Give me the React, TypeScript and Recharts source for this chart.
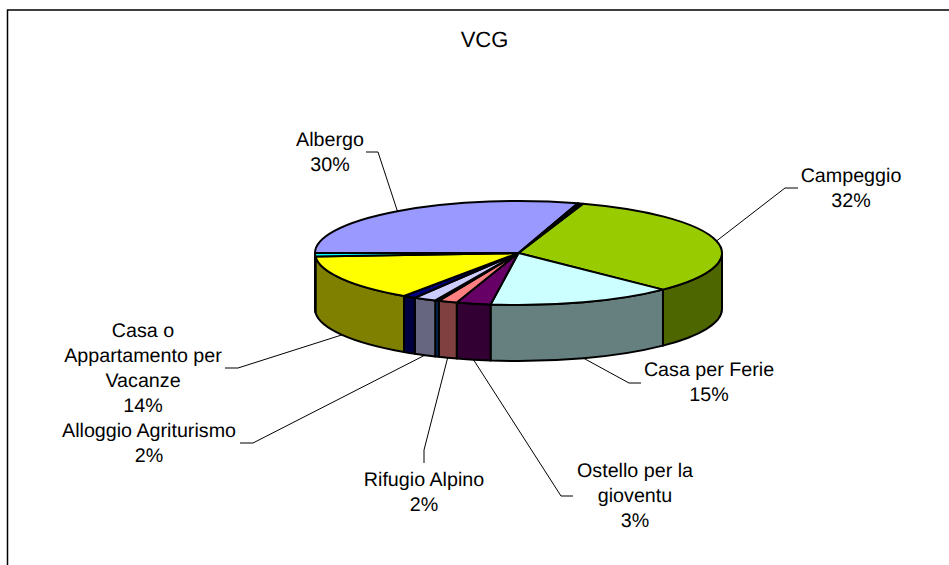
import { PieChart, Pie } from "recharts";

const names = [
  "Campeggio",
  "Casa per Ferie",
  "Ostello per la gioventu",
  "Rifugio Alpino",
  "Altro A",
  "Alloggio Agriturismo",
  "Altro B",
  "Casa o Appartamento per Vacanze",
  "Altro C",
  "Albergo",
  "Altro D",
];
const values = [32.3, 14.75, 2.72, 1.5, 0.3, 1.8, 1.0, 14.4, 1.1, 29.7, 0.43];
const topColors = [
  "#99CC00", "#CCFFFF", "#660066", "#FF8080", "#0066CC", "#CCCCFF",
  "#000080", "#FFFF00", "#00FFFF", "#9999FF", "#000000",
];
const wallColors = [
  "#4D6600", "#668080", "#330033", "#804040", "#003366", "#666680",
  "#000040", "#808000", "#008080", "#4D4D80", "#000000",
];

const data = names.map((name, i) => ({ name, value: values[i], top: topColors[i], wall: wallColors[i] }));

const WIDTH = 949;
const HEIGHT = 565;
const CX = 518.5;
const CY = 253;
const RX = 203.5;
const RY = 52;
const DEPTH = 56;
const FONT = "'Liberation Sans', Arial, sans-serif";

// label text lines, baselines and leader elbow for the slices that have one
const labelLayout: Record<string, { lines: string[]; x: number; y: number; leader: number[][] }> = {
  Campeggio: { lines: ["Campeggio"], x: 851, y: 182, leader: [[785, 188], [798, 188]] },
  "Casa per Ferie": { lines: ["Casa per Ferie"], x: 709, y: 376, leader: [[629, 383], [641, 383]] },
  "Ostello per la gioventu": { lines: ["Ostello per la", "gioventu"], x: 635, y: 477, leader: [[561, 496], [573, 496]] },
  "Rifugio Alpino": { lines: ["Rifugio Alpino"], x: 424, y: 486, leader: [[424, 450], [424, 463]] },
  "Alloggio Agriturismo": { lines: ["Alloggio Agriturismo"], x: 149, y: 437, leader: [[253, 443], [240, 443]] },
  "Casa o Appartamento per Vacanze": { lines: ["Casa o", "Appartamento per", "Vacanze"], x: 143, y: 337, leader: [[238, 368], [225, 368]] },
  Albergo: { lines: ["Albergo"], x: 330, y: 146, leader: [[378, 152], [366, 152]] },
};

const rad = (deg: number) => (deg * Math.PI) / 180;
const px = (deg: number) => CX + RX * Math.cos(rad(deg));
const py = (deg: number) => CY - RY * Math.sin(rad(deg));

// flattened slice face, the angles come from the Pie
function TopFace(props: any) {
  const { startAngle, endAngle, payload } = props;
  const large = Math.abs(startAngle - endAngle) > 180 ? 1 : 0;
  const d = `M${CX},${CY} L${px(startAngle)},${py(startAngle)} A${RX},${RY} 0 ${large} 1 ${px(endAngle)},${py(endAngle)} Z`;
  return <path d={d} fill={payload.top} stroke="#000" strokeWidth={2} strokeLinejoin="round" />;
}

// side wall, only the front half of the disc shows it
function Wall(props: any) {
  const { startAngle, endAngle, payload } = props;
  const hi = Math.min(startAngle, 0);
  const lo = Math.max(endAngle, -180);
  if (lo >= hi) return <g />;
  const d =
    `M${px(hi)},${py(hi)} A${RX},${RY} 0 0 1 ${px(lo)},${py(lo)} ` +
    `L${px(lo)},${py(lo) + DEPTH} A${RX},${RY} 0 0 0 ${px(hi)},${py(hi) + DEPTH} Z`;
  return <path d={d} fill={payload.wall} stroke="#000" strokeWidth={2} strokeLinejoin="round" />;
}

function SliceLabel(props: any) {
  const { name, midAngle, percent } = props;
  const layout = labelLayout[name];
  if (!layout) return <g />;
  const mid = midAngle > 180 ? midAngle - 360 : midAngle;
  const front = mid < -20 && mid > -180;
  const start = [px(midAngle), py(midAngle) + (front ? DEPTH : 0)];
  const pts = [start, ...layout.leader].map((p) => p.join(",")).join(" ");
  const lines = [...layout.lines, `${Math.round(percent * 100)}%`];
  return (
    <g>
      <polyline points={pts} fill="none" stroke="#000" strokeWidth={1} />
      <text x={layout.x} y={layout.y} textAnchor="middle" fontFamily={FONT} fontSize={19.7} fill="#000" textRendering="geometricPrecision">
        {lines.map((line, i) => (
          <tspan key={i} x={layout.x} dy={i === 0 ? 0 : 25}>
            {line}
          </tspan>
        ))}
      </text>
    </g>
  );
}

export default function App() {
  return (
    <div style={{ position: "absolute", left: 0, top: 0, width: WIDTH, height: HEIGHT, background: "#fff", overflow: "hidden" }}>
      <PieChart width={WIDTH} height={HEIGHT} margin={{ top: 0, right: 0, bottom: 0, left: 0 }}>
        <path d={`M7.5,${HEIGHT} V10 H${WIDTH}`} fill="none" stroke="#000" strokeWidth={1.5} />
        <text x={484.5} y={47} textAnchor="middle" fontFamily={FONT} fontSize={22} fill="#000" textRendering="geometricPrecision">
          VCG
        </text>
        <Pie
          data={data}
          dataKey="value"
          nameKey="name"
          cx={CX}
          cy={CY}
          outerRadius={RX}
          startAngle={71.5}
          endAngle={-288.5}
          shape={Wall}
          isAnimationActive={false}
        />
        <Pie
          data={data}
          dataKey="value"
          nameKey="name"
          cx={CX}
          cy={CY}
          outerRadius={RX}
          startAngle={71.5}
          endAngle={-288.5}
          shape={TopFace}
          label={SliceLabel}
          labelLine={false}
          isAnimationActive={false}
        />
      </PieChart>
    </div>
  );
}
